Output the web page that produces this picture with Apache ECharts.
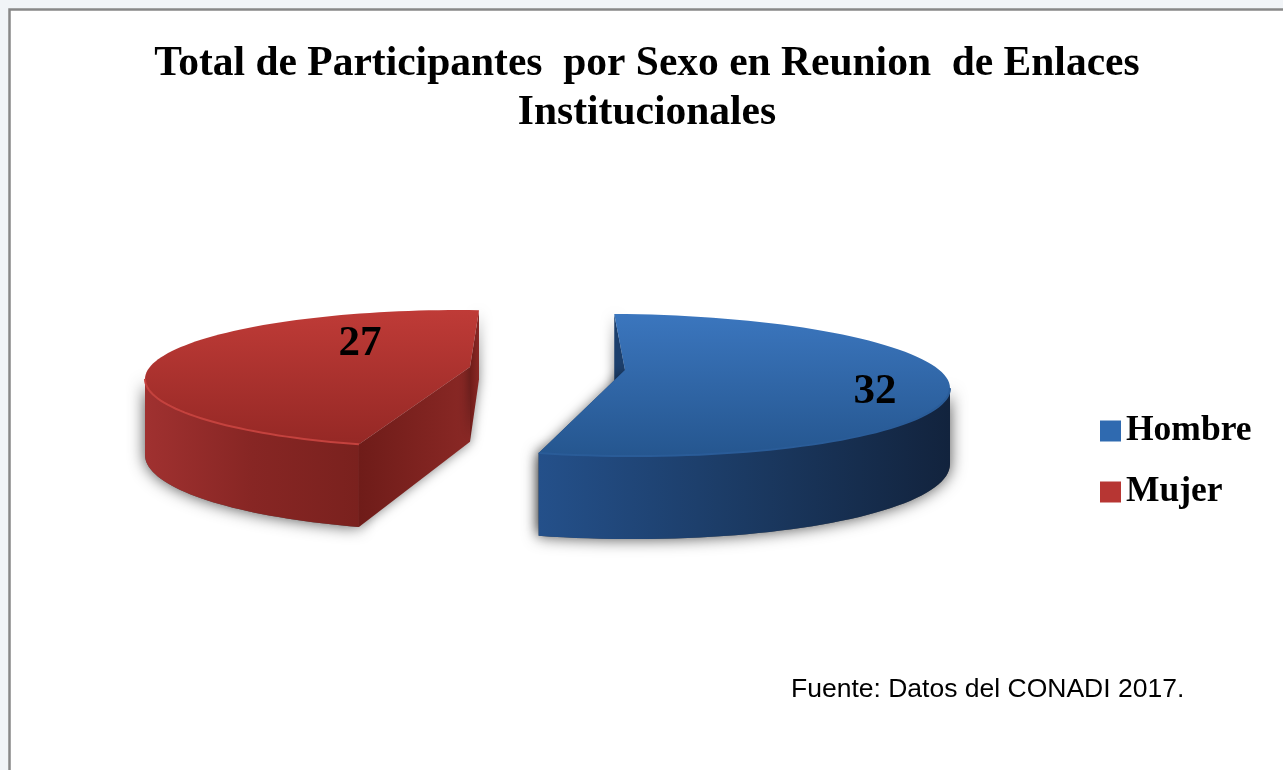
<!DOCTYPE html>
<html>
<head>
<meta charset="utf-8">
<style>html,body{margin:0;padding:0;background:#f1f4f7;overflow:hidden}#c{width:1283px;height:770px;filter:blur(0.6px)}</style>
<script src="https://cdn.jsdelivr.net/npm/echarts@6/dist/echarts.min.js"></script>
</head>
<body>
<div id="c"></div>
<script>
var categories = ['Hombre', 'Mujer'];
var values = [32, 27];
var titleText = 'Total de Participantes  por Sexo en Reunion  de Enlaces\nInstitucionales';
var sourceText = 'Fuente: Datos del CONADI 2017.';

var total = values.reduce(function (a, b) { return a + b; }, 0);
var LG = echarts.graphic.LinearGradient;

// Drawing layout of each exploded slice (pixels / degrees), not data.
var layouts = [
  { ex: 620, ey: 385, a: 330, b: 71, tilt: 3, ax: 625, ay: 370, rot: -1,
    lx: 875, ly: 392,
    top: ['#3b76be', '#25568f'], wall: ['#24508a', '#1b3a63', '#12233d'], cut: ['#1c3f6c', '#1c3f6c'], rim: '#2a5c98' },
  { ex: 460, ey: 379, a: 315, b: 69, tilt: 0, ax: 470, ay: 367, rot: 3.46,
    lx: 360, ly: 344,
    top: ['#bf3b37', '#952825'], wall: ['#a03130', '#872624', '#7a211e'], cut: ['#6f1c19', '#8a2825'], rim: '#c4423e' }
];

function depth(v) { return 76 + 7 * v; }

function makeRender(index) {
  return function (params, api) {
    var L = layouts[index];
    var val = api.value(0);
    var before = 0;
    for (var i = 0; i < index; i++) { before += values[i]; }
    var start = before / total * 360 + L.rot;
    var end = start + val / total * 360;

    function rim(deg) {
      var t = deg * Math.PI / 180;
      var v = -Math.cos(t), u = Math.sin(t);
      return { x: L.ex + L.a * u, y: L.ey + L.b * v + L.tilt * u, v: v };
    }
    function arc(from, to) {
      var out = [], n = 90;
      for (var k = 0; k <= n; k++) { out.push(rim(from + (to - from) * k / n)); }
      return out;
    }
    function pts(list) { return list.map(function (p) { return [p.x, p.y]; }); }
    function low(list) { return list.map(function (p) { return [p.x, p.y + depth(p.v)]; }); }

    var all = arc(start, end);
    var apex = { x: L.ax, y: L.ay, v: (L.ay - L.ey) / L.b };
    var topFace = [[apex.x, apex.y]].concat(pts(all));

    // visible part of the outer wall: rim points in the front half
    var front = all.filter(function (p) { return p.v >= -0.02; });
    var wall = pts(front).concat(low(front).reverse());

    function cutWall(p) {
      return [[p.x, p.y], [apex.x, apex.y], [apex.x, apex.y + depth(apex.v)], [p.x, p.y + depth(p.v)]];
    }
    var c1 = cutWall(rim(start)), c2 = cutWall(rim(end));
    var cutFill = new LG(0, 0, 1, 0, [{ offset: 0, color: L.cut[0] }, { offset: 1, color: L.cut[1] }]);

    function poly(points, fill, extra) {
      var el = { type: 'polygon', shape: { points: points }, style: { fill: fill } };
      if (extra) { for (var key in extra) { el.style[key] = extra[key]; } }
      return el;
    }

    var children = [
      poly(wall, '#555', { shadowBlur: 16, shadowColor: 'rgba(0,0,0,0.7)', shadowOffsetX: 0, shadowOffsetY: 0 }),
      poly(c1, cutFill, { shadowBlur: 12, shadowColor: 'rgba(0,0,0,0.5)' }),
      poly(c2, cutFill, { shadowBlur: 12, shadowColor: 'rgba(0,0,0,0.5)' }),
      poly(wall, new LG(0, 0, 1, 0, [{ offset: 0, color: L.wall[0] }, { offset: 0.5, color: L.wall[1] }, { offset: 1, color: L.wall[2] }])),
      poly(topFace, new LG(0, 0, 0, 1, [{ offset: 0, color: L.top[0] }, { offset: 1, color: L.top[1] }])),
      { type: 'polyline', shape: { points: pts(front) }, style: { fill: null, stroke: L.rim, lineWidth: 2 } },
      { type: 'text', style: { text: String(val), x: L.lx, y: L.ly, align: 'center', verticalAlign: 'middle',
          font: 'bold 43px "Liberation Serif"', fill: '#000' } }
    ];
    return { type: 'group', children: children };
  };
}

var legendColors = ['#2f6ab0', '#b73633'];

var series = categories.map(function (name, i) {
  return {
    type: 'custom',
    name: name,
    coordinateSystem: 'none',
    silent: true,
    itemStyle: { color: legendColors[i] },
    renderItem: makeRender(i),
    data: [[values[i]]]
  };
});

var chart = echarts.init(document.getElementById('c'), null, { renderer: 'canvas' });
chart.setOption({
  animation: false,
  backgroundColor: '#f1f4f7',
  tooltip: { show: false },
  title: {
    text: titleText,
    left: 642,
    top: 35,
    textAlign: 'center',
    textStyle: { fontFamily: '"Liberation Serif"', fontWeight: 'bold', fontSize: 41.5, lineHeight: 49, color: '#000' }
  },
  legend: {
    orient: 'vertical',
    left: 1095,
    top: 408,
    itemWidth: 21,
    itemHeight: 21,
    itemGap: 25,
    icon: 'rect',
    selectedMode: false,
    data: categories,
    textStyle: { fontFamily: '"Liberation Serif"', fontWeight: 'bold', fontSize: 35.5, color: '#000', padding: [0, 0, 0, 0] }
  },
  graphic: [
    { type: 'rect', z: -10, silent: true, shape: { x: 9.5, y: 9.5, width: 1400, height: 1000 },
      style: { fill: '#fff', stroke: '#888', lineWidth: 2.5 } },
    { type: 'text', silent: true, style: { text: sourceText, x: 791, y: 690, verticalAlign: 'middle',
        font: '26.5px "Liberation Sans"', fill: '#000' } }
  ],
  series: series
});
</script>
</body>
</html>
